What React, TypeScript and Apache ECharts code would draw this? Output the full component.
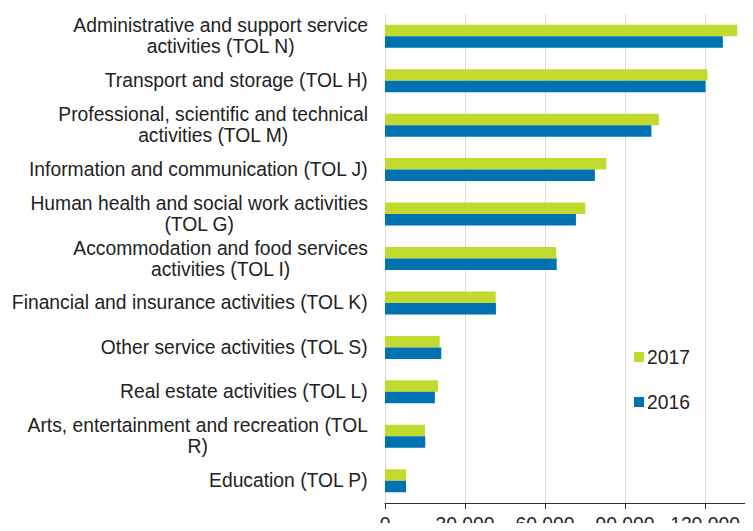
import React, { useEffect, useRef } from "react";
import * as echarts from "echarts";

const categories: string[] = [
  "Administrative and support service\nactivities (TOL N)",
  "Transport and storage (TOL H)",
  "Professional, scientific and technical\nactivities (TOL M)",
  "Information and communication (TOL J)",
  "Human health and social work activities\n(TOL G)",
  "Accommodation and food services\nactivities (TOL I)",
  "Financial and insurance activities (TOL K)",
  "Other service activities (TOL S)",
  "Real estate activities (TOL L)",
  "Arts, entertainment and recreation (TOL\nR)",
  "Education (TOL P)",
];

const values2017: number[] = [132100, 120900, 102700, 83000, 75100, 64200, 41500, 20500, 19900, 15000, 7900];
const values2016: number[] = [126700, 120200, 99900, 78700, 71600, 64400, 41600, 21100, 18700, 15100, 7900];

const seriesNames: string[] = ["2017", "2016"];
const xTicks: number[] = [0, 30000, 60000, 90000, 120000];

const FONT = "'Liberation Sans', Arial, sans-serif";
const FS = 19.3;

export default function App() {
  const ref = useRef<HTMLDivElement>(null);

  useEffect(() => {
    if (!ref.current) return;
    const chart = echarts.init(ref.current, undefined, { renderer: "svg" });
    chart.setOption({
      animation: false,
      textStyle: { fontFamily: FONT },
      grid: {
        left: 385,
        right: 0,
        top: 14,
        bottom: 28,
        containLabel: false,
        outerBoundsMode: "none",
      },
      legend: {
        orient: "vertical",
        left: 629,
        top: 342,
        itemWidth: 10,
        itemHeight: 10,
        itemGap: 25,
        icon: "rect",
        data: seriesNames,
        textStyle: {
          fontSize: FS,
          lineHeight: 20,
          color: "#222",
          fontFamily: FONT,
          padding: [0, 0, 0, -2],
        },
      },
      xAxis: {
        type: "value",
        min: 0,
        max: 138000,
        interval: 30000,
        axisLine: { show: true, lineStyle: { color: "#333", width: 1 } },
        axisTick: { show: true, length: 6, lineStyle: { color: "#333" } },
        splitLine: { show: true, lineStyle: { color: "#d9d9d9", width: 1 } },
        axisLabel: {
          margin: 11.5,
          fontSize: FS,
          color: "#222",
          fontFamily: FONT,
          showMaxLabel: false,
          formatter: (v: number) =>
            xTicks.includes(v) ? String(v).replace(/\B(?=(\d{3})+(?!\d))/g, " ") : "",
        },
      },
      yAxis: {
        type: "category",
        inverse: true,
        data: categories,
        axisLine: { show: false },
        axisTick: { show: false },
        axisLabel: {
          margin: 17,
          formatter: (v: string) =>
            v
              .split("\n")
              .map((line) => "{c|" + line + "}")
              .join("\n"),
          rich: {
            c: {
              align: "center",
              fontSize: FS,
              lineHeight: 21,
              color: "#222",
              fontFamily: FONT,
            },
          },
        },
      },
      series: [
        {
          name: seriesNames[0],
          type: "bar",
          data: values2017,
          barWidth: 11.5,
          barGap: "0%",
          itemStyle: { color: "#c2d92e" },
        },
        {
          name: seriesNames[1],
          type: "bar",
          data: values2016,
          barWidth: 11.5,
          barGap: "0%",
          itemStyle: { color: "#0071b1" },
        },
      ],
    });
    return () => chart.dispose();
  }, []);

  return <div ref={ref} style={{ width: 753, height: 531, margin: -8 }} />;
}
